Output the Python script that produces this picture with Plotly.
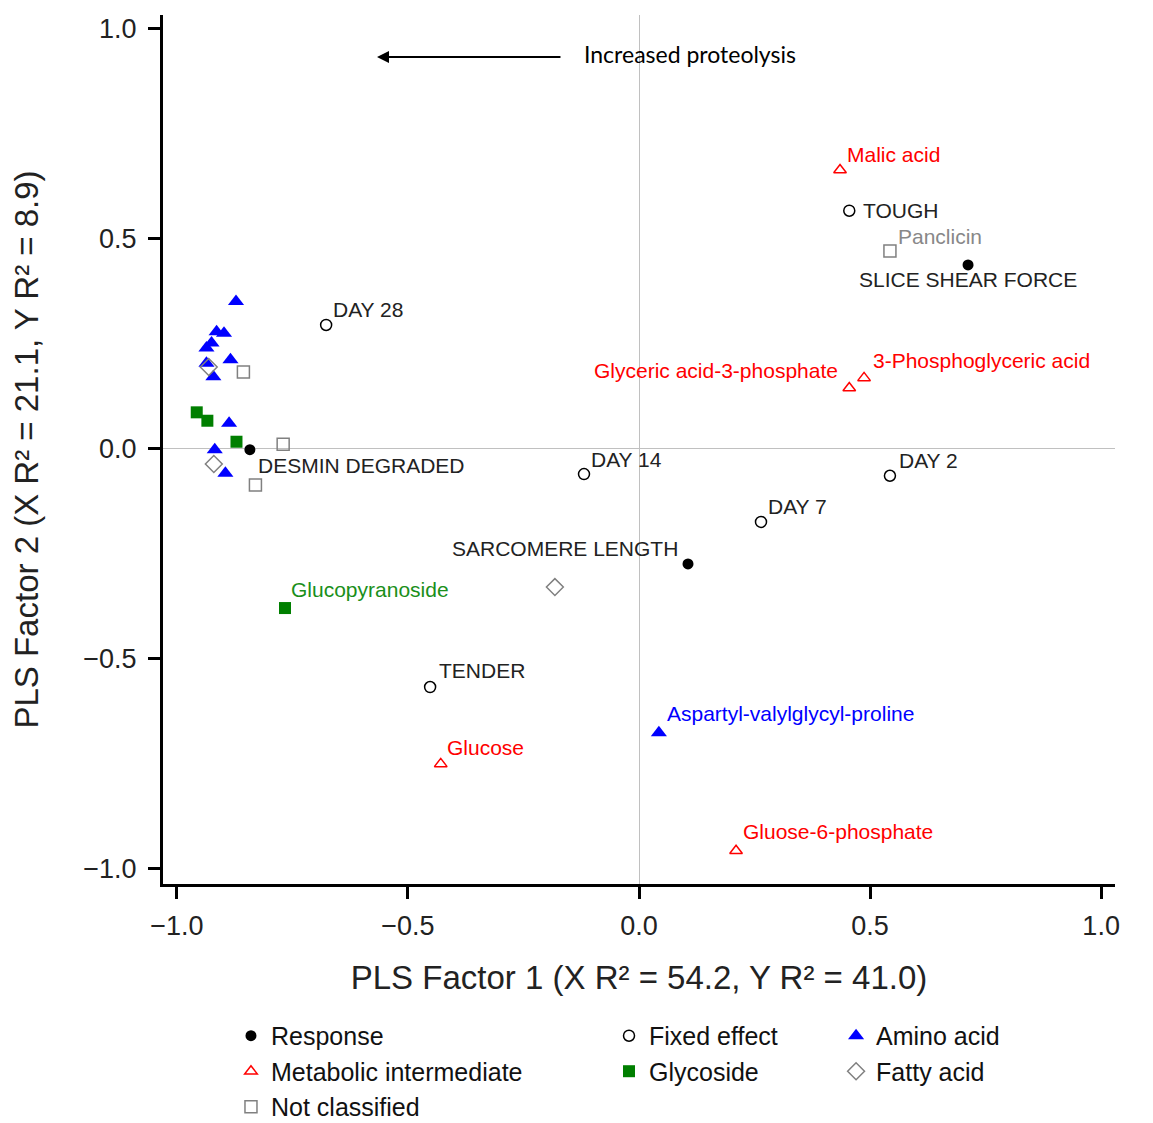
import plotly.graph_objects as go

# ---------------- data ----------------
resp_x = [-0.842, 0.712, 0.106]
resp_y = [-0.002, 0.438, -0.274]
resp_lab = ["DESMIN DEGRADED", "SLICE SHEAR FORCE", "SARCOMERE LENGTH"]

fix_x = [0.455, -0.677, -0.119, 0.543, 0.264, -0.452]
fix_y = [0.567, 0.295, -0.060, -0.064, -0.174, -0.567]
fix_lab = ["TOUGH", "DAY 28", "DAY 14", "DAY 2", "DAY 7", "TENDER"]

met_x = [0.435, 0.455, 0.487, -0.429, 0.210]
met_y = [0.664, 0.145, 0.169, -0.750, -0.957]
met_lab = ["Malic acid", "Glyceric acid-3-phosphate", "3-Phosphoglyceric acid",
           "Glucose", "Gluose-6-phosphate"]

amino_x = [-0.872, -0.914, -0.898, -0.925, -0.936, -0.884, -0.936, -0.921,
           -0.887, -0.918, -0.895, 0.043]
amino_y = [0.351, 0.279, 0.275, 0.252, 0.240, 0.212, 0.204, 0.172,
           0.061, -0.002, -0.058, -0.676]
amino_lab = [""] * 11 + ["Aspartyl-valylglycyl-proline"]

gly_x = [-0.957, -0.934, -0.871, -0.766]
gly_y = [0.087, 0.067, 0.017, -0.379]
gly_lab = ["", "", "", "Glucopyranoside"]

fat_x = [-0.931, -0.920, -0.182]
fat_y = [0.195, -0.036, -0.329]
fat_lab = ["", "", ""]

nc_x = [-0.856, -0.770, -0.830, 0.543]
nc_y = [0.183, 0.011, -0.086, 0.471]
nc_lab = ["", "", "", "Panclicin"]

x_ticks = [-1.0, -0.5, 0.0, 0.5, 1.0]
y_ticks = [-1.0, -0.5, 0.0, 0.5, 1.0]

# ---------------- styling ----------------
AX_FONT = "Liberation Sans, Arial, sans-serif"
NOTE_FONT = "Lato, Open Sans, sans-serif"
RED = "#ff0000"
BLUE = "#0000ff"
GREEN = "#007f00"
GRAY = "#808080"

fig = go.Figure()

series = [
    ("Response", resp_x, resp_y, dict(symbol="circle", size=11, color="black"), "legend"),
    ("Fixed effect", fix_x, fix_y, dict(symbol="circle-open", size=11, color="black", line=dict(width=1.5)), "legend2"),
    ("Amino acid", amino_x, amino_y, dict(symbol="triangle-up", size=14, color=BLUE), "legend3"),
    ("Metabolic intermediate", met_x, met_y, dict(symbol="triangle-up-open", size=11, color=RED, line=dict(width=1.5)), "legend"),
    ("Glycoside", gly_x, gly_y, dict(symbol="square", size=12, color=GREEN), "legend2"),
    ("Fatty acid", fat_x, fat_y, dict(symbol="diamond-open", size=13, color=GRAY, line=dict(width=1.5)), "legend3"),
    ("Not classified", nc_x, nc_y, dict(symbol="square-open", size=12, color=GRAY, line=dict(width=1.5)), "legend"),
]
for name, xs, ys, mk, lg in series:
    fig.add_trace(go.Scatter(x=xs, y=ys, mode="markers", name=name, marker=mk,
                             legend=lg, hoverinfo="skip"))

# label placement (xanchor, xshift, yshift)
def add_labels(xs, ys, labs, color, place):
    for xv, yv, t, p in zip(xs, ys, labs, place):
        if not t:
            continue
        xa, xs_, ys_ = p
        fig.add_annotation(x=xv, y=yv, text=t, showarrow=False, xanchor=xa,
                           yanchor="middle", xshift=xs_, yshift=ys_,
                           font=dict(family=AX_FONT, size=21, color=color))

add_labels(resp_x, resp_y, resp_lab, "#222222",
           [("left", 6, -16), ("center", 0, -15), ("right", -8, 15)])
add_labels(fix_x, fix_y, fix_lab, "#222222",
           [("left", 12, 0), ("left", 5, 15), ("left", 5, 15), ("left", 7, 15),
            ("left", 5, 15), ("left", 7, 17)])
add_labels(met_x, met_y, met_lab, RED,
           [("left", 5, 15), ("right", -9, 17), ("left", 7, 17), ("left", 4, 16), ("left", 5, 19)])
add_labels(amino_x, amino_y, amino_lab, BLUE, [None] * 11 + [("left", 6, 19)])
add_labels(gly_x, gly_y, gly_lab, "#1a8f1a", [None] * 3 + [("left", 4, 19)])
add_labels(nc_x, nc_y, nc_lab, "#888888", [None] * 3 + [("left", 6, 15)])

# directional arrows
fig.add_annotation(x=-0.567, y=0.933, ax=185, ay=0, axref="pixel", ayref="pixel",
                   text="", showarrow=True, arrowhead=2, arrowsize=1.2, arrowwidth=2,
                   arrowcolor="black")
fig.add_annotation(x=-0.123, y=0.940, text="Increased proteolysis", showarrow=False,
                   xanchor="left", yanchor="middle",
                   font=dict(family=NOTE_FONT, size=23, color="black"))
fig.add_annotation(x=1.091, y=-0.474, ax=0, ay=-156, axref="pixel", ayref="pixel",
                   text="", showarrow=True, arrowhead=2, arrowsize=1.2, arrowwidth=2,
                   arrowcolor="black")
fig.add_annotation(x=1.087, y=0.236, text="Increased tenderness", showarrow=False,
                   textangle=90, xanchor="center", yanchor="middle",
                   font=dict(family=NOTE_FONT, size=23, color="black"))

axis_common = dict(
    showgrid=False, zeroline=True, zerolinecolor="#c0c0c0", zerolinewidth=1,
    showline=True, linecolor="black", linewidth=3, ticks="outside", ticklen=12,
    tickwidth=2.5, tickcolor="black", tickformat=".1f", automargin=False,
    tickfont=dict(family=AX_FONT, size=27, color="#222222"),
)

legend_common = dict(yanchor="top", xanchor="left", bgcolor="rgba(0,0,0,0)",
                     font=dict(family=AX_FONT, size=25, color="#111111"), tracegroupgap=0)

fig.update_layout(
    width=1153, height=1123,
    margin=dict(l=155, r=46, t=7, b=247, autoexpand=False),
    plot_bgcolor="white", paper_bgcolor="white",
    xaxis=dict(range=[-1.030, 1.030], tickvals=x_ticks, ticklabelstandoff=4,
               title=dict(text="PLS Factor 1 (X R² = 54.2, Y R² = 41.0)",
                          font=dict(family=AX_FONT, size=33, color="#222222"), standoff=26),
               **axis_common),
    yaxis=dict(range=[-1.036, 1.033], tickvals=y_ticks, ticklabelstandoff=6,
               title=dict(text="PLS Factor 2 (X R² = 21.1, Y R² = 8.9)",
                          font=dict(family=AX_FONT, size=33, color="#222222"), standoff=36),
               **axis_common),
    showlegend=True,
    legend=dict(x=0.0714, y=-0.1484, **legend_common),
    legend2=dict(x=0.4685, y=-0.1484, **legend_common),
    legend3=dict(x=0.707, y=-0.1484, **legend_common),
)

fig.write_html("out.html")
